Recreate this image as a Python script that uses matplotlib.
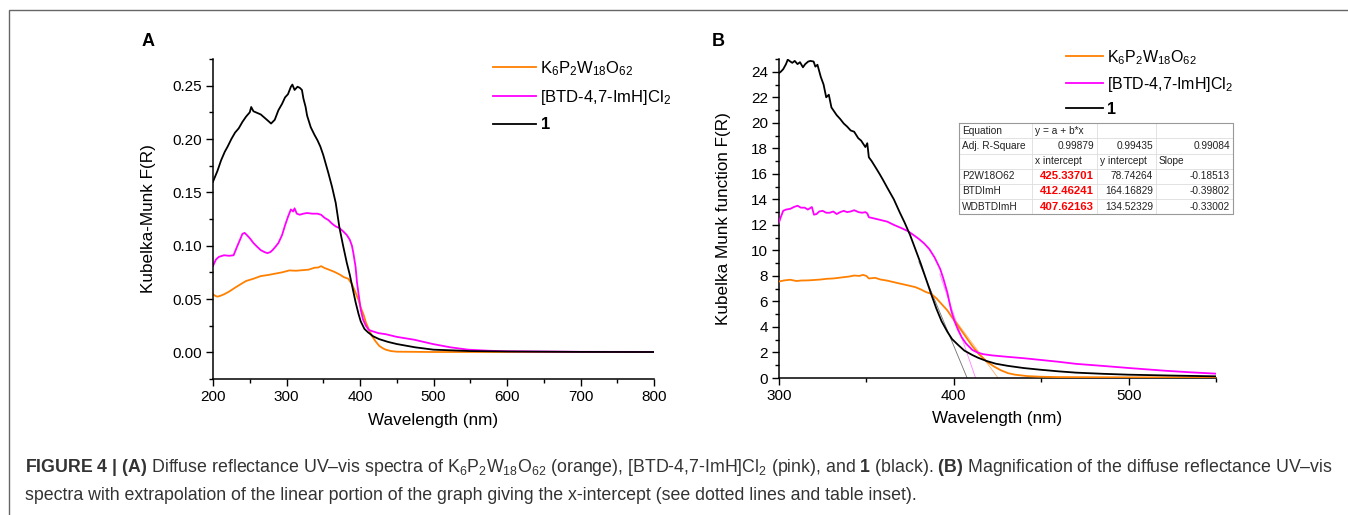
import matplotlib

matplotlib.use("Agg")

import matplotlib.pyplot as plt
from matplotlib.ticker import MultipleLocator, FormatStrFormatter

plt.rcParams["font.family"] = ["Liberation Sans", "DejaVu Sans"]
plt.rcParams["mathtext.fontset"] = "custom"
plt.rcParams["mathtext.rm"] = "Liberation Sans"
plt.rcParams["mathtext.it"] = "Liberation Sans:italic"
plt.rcParams["mathtext.bf"] = "Liberation Sans:bold"

ORANGE = "#FF8000"
MAGENTA = "#FF00FF"
BLACK = "#000000"

LABELS = [r"K$_6$P$_2$W$_{18}$O$_{62}$", r"[BTD-4,7-ImH]Cl$_2$", "1"]

# ---- panel A : full spectra ----
wl_a_black = [200, 203, 206, 211, 216, 220, 225, 230, 235, 240, 245, 250, 252, 255, 260, 265, 270, 275, 279, 284,
              289, 294, 298, 302, 306, 308, 311, 315, 318, 321, 323, 326, 328, 333, 338, 342, 346, 350, 357, 362,
              367, 372, 377, 382, 386, 390, 394, 398, 401, 406, 411, 418, 426, 438, 450, 475, 500, 550, 600, 700,
              800]
km_a_black = [0.160, 0.165, 0.170, 0.180, 0.188, 0.193, 0.200, 0.206, 0.210, 0.216, 0.221, 0.225, 0.230, 0.226,
              0.2245, 0.223, 0.220, 0.217, 0.2145, 0.218, 0.227, 0.233, 0.239, 0.242, 0.249, 0.251, 0.246, 0.249,
              0.248, 0.246, 0.238, 0.230, 0.222, 0.211, 0.204, 0.199, 0.193, 0.185, 0.168, 0.155, 0.140, 0.117,
              0.100, 0.084, 0.073, 0.060, 0.047, 0.036, 0.029, 0.022, 0.0187, 0.015, 0.0124, 0.0098, 0.0078,
              0.0047, 0.0025, 0.0012, 0.0008, 0.0004, 0.0003]

wl_a_btd = [200, 204, 208, 215, 222, 228, 233, 237, 240, 243, 246, 250, 255, 260, 265, 270, 274, 278, 281, 285,
            289, 294, 298, 302, 306, 309, 311, 314, 318, 323, 328, 335, 342, 347, 352, 357, 362, 367, 372, 377,
            382, 386, 389, 391, 394, 396, 399, 401, 404, 408, 412, 416, 425, 435, 450, 474, 499, 523, 547, 575,
            600, 700, 800]
km_a_btd = [0.081, 0.087, 0.0895, 0.091, 0.0905, 0.091, 0.0995, 0.106, 0.111, 0.112, 0.110, 0.107, 0.1025, 0.099,
            0.0958, 0.094, 0.093, 0.094, 0.0958, 0.099, 0.1025, 0.110, 0.119, 0.127, 0.134, 0.132, 0.135, 0.130,
            0.129, 0.130, 0.1306, 0.130, 0.130, 0.129, 0.126, 0.124, 0.1206, 0.118, 0.1165, 0.1135, 0.110, 0.1057,
            0.100, 0.093, 0.080, 0.065, 0.050, 0.040, 0.031, 0.0249, 0.021, 0.020, 0.018, 0.017, 0.0145, 0.0118,
            0.0078, 0.0047, 0.0025, 0.0015, 0.001, 0.0005, 0.0004]

wl_a_pom = [200, 203, 206, 210, 215, 222, 230, 238, 245, 255, 265, 275, 284, 294, 304, 313, 323, 330, 338, 343,
            347, 352, 357, 365, 372, 378, 384, 389, 394, 398, 401, 405, 408, 412, 416, 421, 426, 431, 435, 442,
            450, 500, 600, 700, 800]
km_a_pom = [0.0544, 0.053, 0.0522, 0.053, 0.0544, 0.057, 0.0606, 0.064, 0.0669, 0.069, 0.0715, 0.0725, 0.0737,
            0.075, 0.0768, 0.0765, 0.0771, 0.0775, 0.0793, 0.0795, 0.0808, 0.079, 0.0777, 0.0755, 0.0731, 0.0705,
            0.069, 0.064, 0.056, 0.049, 0.042, 0.035, 0.028, 0.0215, 0.0155, 0.0105, 0.0062, 0.0038, 0.0025,
            0.0012, 0.0006, 0.0003, 0.0003, 0.0003, 0.0003]

# ---- panel B : magnified band edge ----
wl_b_black = [300, 301, 302.4, 304, 305, 306.5, 307.6, 309, 310.6, 312, 313.7, 315, 316.7, 318, 319.8, 320.8, 322,
              323.9, 325.5, 327, 328.5, 330, 333, 335, 337, 339, 341, 343, 345.3, 347, 349.4, 350.5, 351.4, 353,
              355.5, 357.5, 359.6, 362, 365.7, 369, 371.8, 375, 378, 381, 384, 387, 390, 393, 396.3, 399, 402.4,
              406, 410.6, 414, 418.8, 424, 431, 440, 449.4, 460, 470, 485, 500, 525, 550]
km_b_black = [23.9, 24.0, 24.2, 24.6, 24.95, 24.8, 24.7, 24.85, 24.6, 24.75, 24.35, 24.6, 24.8, 24.85, 24.8, 24.4,
              24.55, 23.6, 23.0, 22.0, 22.2, 21.2, 20.6, 20.3, 19.95, 19.7, 19.4, 19.3, 18.8, 18.6, 18.1, 18.4,
              17.3, 17.0, 16.45, 16.0, 15.5, 14.9, 14.0, 13.0, 12.2, 11.2, 10.1, 9.0, 7.8, 6.6, 5.45, 4.45, 3.63,
              3.05, 2.6, 2.15, 1.8, 1.58, 1.33, 1.12, 0.95, 0.78, 0.65, 0.52, 0.42, 0.33, 0.26, 0.19, 0.13]

wl_b_btd = [300, 301, 302.4, 304, 306.5, 308.5, 310.6, 312.5, 314.7, 316.5, 318.8, 320, 321.5, 323, 325, 327, 329,
            331, 333, 335, 337, 339, 341, 343, 345.5, 347.5, 349.4, 350.5, 351.4, 353, 357.6, 362, 365.7, 370,
            373.9, 377, 380, 383, 386, 389, 392.2, 394, 396.3, 398.5, 400.4, 402.5, 404.5, 407, 410.6, 413.5,
            416.7, 422, 429, 440, 449.4, 460, 469.8, 485, 500.4, 520.8, 535, 550]
km_b_btd = [12.2, 12.6, 13.1, 13.2, 13.26, 13.4, 13.5, 13.35, 13.35, 13.2, 13.4, 12.8, 12.85, 13.05, 13.1, 12.95,
            12.95, 13.05, 12.85, 13.0, 13.1, 13.0, 13.05, 13.15, 13.0, 12.95, 13.0, 12.9, 12.6, 12.55, 12.4, 12.25,
            12.0, 11.75, 11.5, 11.2, 10.9, 10.55, 10.1, 9.45, 8.55, 7.8, 6.7, 5.3, 4.45, 3.75, 3.2, 2.7, 2.2, 2.0,
            1.87, 1.77, 1.68, 1.55, 1.42, 1.27, 1.11, 0.95, 0.78, 0.57, 0.45, 0.34]

wl_b_pom = [300, 303, 306.5, 310, 312.7, 316.7, 320, 324, 327, 331, 334, 337, 340, 343, 346, 348, 350, 351.4, 355,
            358, 361.6, 366, 369.8, 374, 378, 381, 384, 387, 390, 393, 396.3, 399, 402.4, 406, 410.6, 414.5, 418.8,
            423, 427, 431, 435, 442, 449.4, 460, 500, 550]
km_b_pom = [7.56, 7.65, 7.7, 7.6, 7.64, 7.65, 7.68, 7.72, 7.77, 7.8, 7.85, 7.9, 7.95, 8.03, 8.0, 8.08, 8.0, 7.8,
            7.85, 7.72, 7.64, 7.5, 7.38, 7.25, 7.12, 6.95, 6.74, 6.6, 6.25, 5.8, 5.3, 4.75, 4.1, 3.4, 2.5, 1.85,
            1.3, 0.9, 0.6, 0.38, 0.26, 0.15, 0.1, 0.07, 0.05, 0.05]

# ---- linear fits (table inset) ----
fit_names = ["P2W18O62", "BTDImH", "WDBTDImH"]
adj_r2 = ["0.99879", "0.99435", "0.99084"]
x_intercepts = [425.33701, 412.46241, 407.62163]
y_intercepts = [78.74264, 164.16829, 134.52329]
slopes = [-0.18513, -0.39802, -0.33002]
fit_start = [400, 392, 380]
fit_colors = ["#FFB070", "#FF80FF", "#707070"]


def style_axis(ax):
    for side in ("top", "right"):
        ax.spines[side].set_visible(False)
    for side in ("left", "bottom"):
        ax.spines[side].set_linewidth(1.1)
    ax.tick_params(which="major", direction="out", length=5, width=1.0, labelsize=11, pad=3)
    ax.tick_params(which="minor", direction="out", length=3, width=1.0)


W, H = 1348, 515
fig = plt.figure(figsize=(W / 100, H / 100), dpi=100)

# panel A
axA = fig.add_axes([213 / W, 1 - 379 / H, 441 / W, 320 / H])
axA.plot(wl_a_pom, km_a_pom, color=ORANGE, lw=1.3, label=LABELS[0])
axA.plot(wl_a_btd, km_a_btd, color=MAGENTA, lw=1.3, label=LABELS[1])
axA.plot(wl_a_black, km_a_black, color=BLACK, lw=1.3, label=LABELS[2])
axA.set_xlim(200, 800)
axA.set_ylim(-0.025, 0.275)
axA.xaxis.set_major_locator(MultipleLocator(100))
axA.xaxis.set_minor_locator(MultipleLocator(50))
axA.yaxis.set_major_locator(MultipleLocator(0.05))
axA.yaxis.set_minor_locator(MultipleLocator(0.025))
axA.yaxis.set_major_formatter(FormatStrFormatter("%.2f"))
style_axis(axA)
axA.set_xlabel("Wavelength (nm)", fontsize=12.3)
axA.set_ylabel("Kubelka-Munk F(R)", fontsize=12.3)
axA.xaxis.set_label_coords(0.5, -0.105)
axA.yaxis.set_label_coords(-0.13, 0.5)
legA = axA.legend(loc="upper left", bbox_to_anchor=(493 / W, 1 - 59 / H), bbox_transform=fig.transFigure,
                  frameon=False, fontsize=12, handlelength=2.6, handletextpad=0.25, labelspacing=0.62,
                  borderpad=0, borderaxespad=0)
legA.get_texts()[2].set_fontweight("bold")

# panel B
axB = fig.add_axes([779 / W, 1 - 378 / H, 437 / W, 319 / H])
axB.plot(wl_b_pom, km_b_pom, color=ORANGE, lw=1.3, label=LABELS[0], zorder=3)
axB.plot(wl_b_btd, km_b_btd, color=MAGENTA, lw=1.3, label=LABELS[1], zorder=3)
axB.plot(wl_b_black, km_b_black, color=BLACK, lw=1.3, label=LABELS[2], zorder=3)
for x0, a, b, col in zip(fit_start, y_intercepts, slopes, fit_colors):
    x1 = -a / b
    axB.plot([x0, x1], [a + b * x0, a + b * x1], color=col, lw=0.6, zorder=2)
axB.set_xlim(300, 550)
axB.set_ylim(0, 25)
axB.xaxis.set_major_locator(MultipleLocator(100))
axB.xaxis.set_minor_locator(MultipleLocator(50))
axB.yaxis.set_major_locator(MultipleLocator(2))
axB.yaxis.set_minor_locator(MultipleLocator(1))
style_axis(axB)
axB.set_xlabel("Wavelength (nm)", fontsize=12.3)
axB.set_ylabel("Kubelka Munk function F(R)", fontsize=12.3)
axB.xaxis.set_label_coords(0.5, -0.105)
axB.yaxis.set_label_coords(-0.11, 0.5)
legB = axB.legend(loc="upper left", bbox_to_anchor=(1066 / W, 1 - 48 / H), bbox_transform=fig.transFigure,
                  frameon=False, fontsize=11.5, handlelength=2.3, handletextpad=0.25, labelspacing=0.5,
                  borderpad=0, borderaxespad=0)
legB.get_texts()[2].set_fontweight("bold")

fig.text(148 / W, 1 - 42 / H, "A", fontsize=13, fontweight="bold", ha="center", va="center")
fig.text(718 / W, 1 - 42 / H, "B", fontsize=13, fontweight="bold", ha="center", va="center")

# overlay in pixel coordinates: frame, table inset, caption
ov = fig.add_axes([0, 0, 1, 1], zorder=5)
ov.set_xlim(0, W)
ov.set_ylim(H, 0)
ov.axis("off")

ov.plot([9, 9, W], [H, 10, 10], color="#666666", lw=1.0, solid_joinstyle="miter")

cols = [959, 1032, 1097, 1156, 1233]
top, rowh = 123.3, 15.15
nrows = 6
ov.fill_between([cols[0], cols[-1]], top, top + nrows * rowh, color="white", zorder=1)
for i in range(1, nrows):
    ov.plot([cols[0], cols[-1]], [top + i * rowh] * 2, color="#DDDDDD", lw=0.6, zorder=2)
for c in cols[1:-1]:
    ov.plot([c, c], [top, top + nrows * rowh], color="#DDDDDD", lw=0.6, zorder=2)
ov.plot([cols[0], cols[-1], cols[-1], cols[0], cols[0]],
        [top, top, top + nrows * rowh, top + nrows * rowh, top], color="#999999", lw=0.8, zorder=3)

rows = [["Equation", "y = a + b*x", "", ""],
        ["Adj. R-Square"] + adj_r2,
        ["", "x intercept", "y intercept", "Slope"]]
for n, xi, yi, s in zip(fit_names, x_intercepts, y_intercepts, slopes):
    rows.append([n, f"{xi:.5f}", f"{yi:.5f}", f"{s:.5f}"])

tfs = 7.3
for r, row in enumerate(rows):
    yc = top + (r + 0.5) * rowh
    for c, txt in enumerate(row):
        if not txt:
            continue
        left_aligned = c == 0 or r in (0, 2)
        if left_aligned:
            x, ha = cols[c] + 3, "left"
        else:
            x, ha = cols[c + 1] - 3, "right"
        kw = dict(fontsize=tfs, color="#222222")
        if r >= 3 and c == 1:
            kw = dict(fontsize=8.2, color="#FF0000", fontweight="bold")
        ov.text(x, yc, txt, ha=ha, va="center", zorder=4, **kw)

cap1 = (r"$\mathbf{FIGURE\ 4\ |\ (A)}$ Diffuse reflectance UV–vis spectra of K$_6$P$_2$W$_{18}$O$_{62}$ "
        r"(orange), [BTD-4,7-ImH]Cl$_2$ (pink), and $\mathbf{1}$ (black). $\mathbf{(B)}$ Magnification "
        r"of the diffuse reflectance UV–vis")
cap2 = "spectra with extrapolation of the linear portion of the graph giving the x-intercept (see dotted lines and table inset)."
t1 = ov.text(25, 468, cap1, fontsize=10.5, color="#333333", va="center", ha="left")
t2 = ov.text(25, 496, cap2, fontsize=10.5, color="#333333", va="center", ha="left")

# scale caption so the first line spans the same width as in the page layout
fig.canvas.draw()
width = t1.get_window_extent().width
fs = 10.5 * (1338 - 25) / width
t1.set_fontsize(fs)
t2.set_fontsize(fs)

fig.savefig("out.png", dpi=100, facecolor="white")
